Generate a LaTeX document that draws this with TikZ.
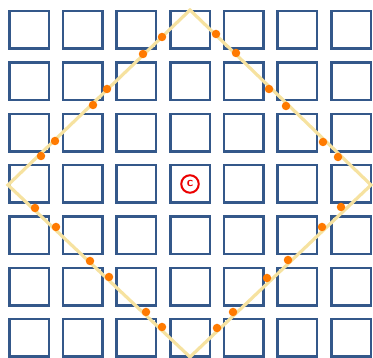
\documentclass[tikz,border=0pt]{standalone}
\begin{document}
\begin{tikzpicture}[x=1pt,y=-1pt,
  cell/.style={draw=cellblue,line width=2.5pt,minimum width=39.5pt,minimum height=37.5pt,inner sep=0pt},
  rim/.style={draw=rimyellow,line width=3.2pt,line join=miter},
  hit/.style={circle,fill=dotorange,inner sep=0pt,minimum size=8.5pt},
  copymark/.style={circle,draw=markred,line width=2pt,minimum size=17.5pt,inner sep=0pt,
    text=markred,font=\fontsize{13}{13}\selectfont\sffamily\bfseries}]
\definecolor{cellblue}{RGB}{52,88,138}
\definecolor{rimyellow}{RGB}{246,226,160}
\definecolor{dotorange}{RGB}{255,122,0}
\definecolor{markred}{RGB}{235,0,0}
\useasboundingbox (0,0) rectangle (373,358);
\clip (0,0) rectangle (373,358);
\foreach \i in {0,...,6}{
  \foreach \j in {0,...,6}{
    \node[cell] (s-\i-\j) at ({29+53.67*\i},{30+51.33*\j}) {};
  }
}
\node[copymark] (c) at (190,184) {\raisebox{0.5pt}{c}};
\coordinate (T) at (190,10);
\coordinate (R) at (371,185);
\coordinate (B) at (190,357);
\coordinate (L) at (8,185);
\draw[rim] (T) -- (R) -- (B) -- (L) -- cycle;
\foreach \x/\y [count=\k] in {162/37,143/54,107/89,93/105,55/141,41/156,
  216/34,236/53,269/89,286/106,323/142,338/157,
  341/207,322/227,288/260,267/278,233/312,217/328,
  35/208,56/227,90/261,109/277,146/312,162/327}{
  \node[hit] (d\k) at (\x,\y) {};
}
\end{tikzpicture}
\end{document}
